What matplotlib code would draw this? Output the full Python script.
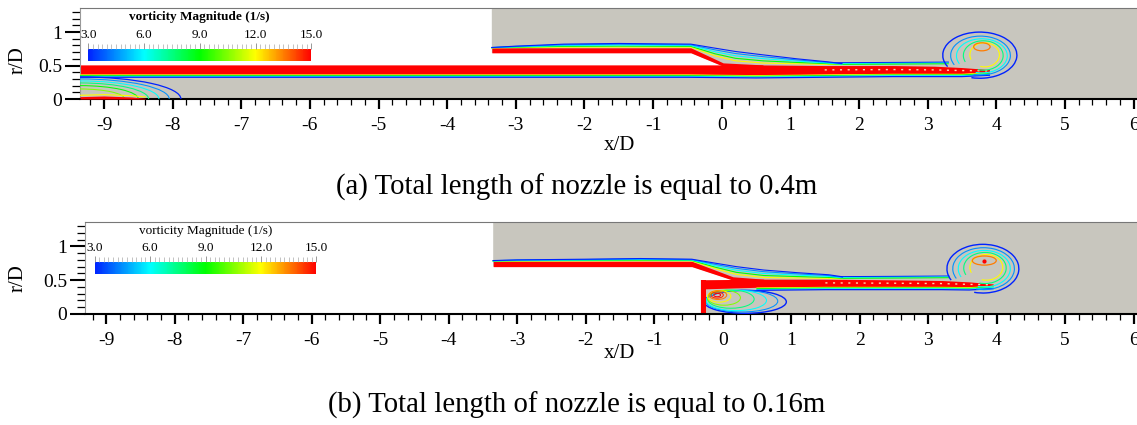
import numpy as np
import matplotlib
matplotlib.use('Agg')
import matplotlib.pyplot as plt
from matplotlib.colors import LinearSegmentedColormap, Normalize
from matplotlib.patches import Polygon, Ellipse, Arc, Rectangle
from matplotlib.ticker import MultipleLocator
import matplotlib.cm as cm

plt.rcParams['font.family'] = ['Liberation Serif', 'DejaVu Serif']
plt.rcParams['axes.unicode_minus'] = False

# vorticity colour scale
vort_min, vort_max = 3.0, 15.0
vort_ticks = [3.0, 6.0, 9.0, 12.0, 15.0]

# ---------------- case (a): nozzle length 0.4 m ----------------
# nozzle body (outside the fluid domain)
wall_a_x = [-9.35, -3.35, -3.35, -0.45, 0.02, -9.35]
wall_a_r = [1.40, 1.40, 0.69, 0.69, 0.49, 0.49]
# inner jet shear layer
jet_a_x = [-9.35, -3.0, -0.5, 0.5, 1.5, 2.5, 3.1, 3.5, 3.9]
jet_a_top = [0.51, 0.51, 0.51, 0.51, 0.50, 0.50, 0.49, 0.47, 0.44]
jet_a_bot = [0.37, 0.37, 0.37, 0.36, 0.37, 0.38, 0.38, 0.38, 0.40]
# outer shear layer leaving the outer nozzle lip
lip_a_x = [-3.35, -0.45, 0.02, 0.6]
lip_a_bot = [0.69, 0.69, 0.49, 0.49]
lip_a_top = [0.765, 0.765, 0.54, 0.51]
outer_a_x = [-3.35, -3.0, -2.3, -1.5, -0.45, -0.1, 0.2, 0.6, 1.1, 1.55, 1.75]
outer_a_in = [0.765, 0.765, 0.765, 0.765, 0.765, 0.62, 0.54, 0.51, 0.51, 0.51, 0.51]
outer_a_out = [0.77, 0.79, 0.82, 0.83, 0.82, 0.76, 0.71, 0.66, 0.60, 0.555, 0.53]
crest_a_x = [1.55, 2.5, 3.3]
crest_a_r = [0.54, 0.545, 0.55]
# starting vortex ring
ring_a_cx = [3.76, 3.77, 3.79, 3.81, 3.83, 3.79]
ring_a_cr = [0.655, 0.65, 0.645, 0.65, 0.66, 0.78]
ring_a_w = [1.08, 0.87, 0.74, 0.58, 0.43, 0.24]
ring_a_h = [0.69, 0.58, 0.51, 0.44, 0.36, 0.12]
ring_a_lvl = [3.0, 4.5, 6.0, 7.5, 12.0, 13.5]
# recirculation at the inlet corner
recirc_a_len = [1.47, 1.30, 1.15, 1.00, 0.85, 0.65]
recirc_a_ht = [0.33, 0.30, 0.27, 0.24, 0.20, 0.15]
recirc_a_lvl = [3.0, 4.5, 6.0, 7.5, 9.0, 10.5]
floor_a_x = [-9.35, -9.0, -8.6, -8.4]
floor_a_r = [0.035, 0.045, 0.03, 0.01]

# ---------------- case (b): nozzle length 0.16 m ----------------
wall_b_x = [-9.31, -9.31, -3.35, -3.35, -0.45, 0.15, -0.32, -0.32]
wall_b_r = [0.0, 1.40, 1.40, 0.70, 0.70, 0.50, 0.50, 0.0]
jet_b_x = [-0.32, 0.5, 1.5, 2.5, 3.2, 3.6, 3.95]
jet_b_top = [0.505, 0.515, 0.515, 0.505, 0.495, 0.475, 0.445]
jet_b_bot = [0.37, 0.395, 0.405, 0.405, 0.405, 0.40, 0.42]
step_b_x = [-0.32, -0.24]
step_b_r = [0.0, 0.505]
lip_b_x = [-3.35, -0.45, 0.15, 0.6]
lip_b_bot = [0.70, 0.70, 0.50, 0.50]
lip_b_top = [0.78, 0.78, 0.55, 0.515]
outer_b_x = [-3.35, -3.0, -2.0, -1.2, -0.45, -0.1, 0.2, 0.6, 1.1, 1.55, 1.75]
outer_b_in = [0.78, 0.78, 0.78, 0.78, 0.78, 0.65, 0.56, 0.515, 0.515, 0.515, 0.515]
outer_b_out = [0.79, 0.80, 0.81, 0.82, 0.81, 0.75, 0.70, 0.65, 0.61, 0.58, 0.55]
crest_b_x = [1.55, 2.5, 3.3]
crest_b_r = [0.55, 0.555, 0.56]
ring_b_cx = [3.80, 3.81, 3.82, 3.83, 3.85, 3.82]
ring_b_cr = [0.67, 0.67, 0.67, 0.68, 0.69, 0.79]
ring_b_w = [1.05, 0.90, 0.76, 0.62, 0.48, 0.35]
ring_b_h = [0.72, 0.62, 0.54, 0.46, 0.38, 0.135]
ring_b_lvl = [3.0, 4.5, 6.0, 7.5, 12.0, 13.5]
# recirculation behind the inner nozzle
recirc_b_cx = [0.33, 0.28, 0.20, 0.12, 0.02, -0.05, -0.07, -0.08, -0.08]
recirc_b_cr = [0.18, 0.19, 0.20, 0.22, 0.24, 0.26, 0.28, 0.28, 0.28]
recirc_b_w = [1.20, 1.05, 0.88, 0.68, 0.48, 0.34, 0.26, 0.18, 0.10]
recirc_b_h = [0.34, 0.32, 0.30, 0.27, 0.22, 0.17, 0.13, 0.09, 0.05]
recirc_b_lvl = [3.0, 4.5, 6.0, 7.5, 10.5, 12.0, 13.5, 14.5, 15.0]

GRAY = '#c8c6be'
RED = '#ff0000'
cmap = LinearSegmentedColormap.from_list(
    'vort', ['#0022ff', '#00ffff', '#00ff00', '#ffff00', '#ff0000'])
norm = Normalize(vort_min, vort_max)


def lc(v):
    return cmap(norm(v))


W, H = 1137, 425
fig = plt.figure(figsize=(W / 100, H / 100), dpi=100)


def add_panel(left, top, bottom, x0):
    ax = fig.add_axes([left / W, 1 - bottom / H, (W - left) / W, (bottom - top) / H])
    ax.set_xlim(x0, 6.05)
    ax.set_ylim(0, 1.36)
    ax.set_facecolor(GRAY)
    ax.xaxis.set_major_locator(MultipleLocator(1))
    ax.xaxis.set_minor_locator(MultipleLocator(0.2))
    ax.set_yticks([0, 0.5, 1])
    ax.set_yticklabels(['0', '0.5', '1'])
    ax.yaxis.set_minor_locator(MultipleLocator(0.1))
    ax.tick_params(axis='x', which='major', direction='out', length=7, width=1.6, labelsize=14, pad=6)
    ax.tick_params(axis='x', which='minor', direction='out', length=4.5, width=0.9)
    ax.tick_params(axis='y', which='major', direction='out', length=11, width=1.5, labelsize=14, pad=2)
    ax.tick_params(axis='y', which='minor', direction='out', length=6, width=0.9)
    ax.spines['top'].set_color('#777777')
    ax.spines['left'].set_color('#999999')
    ax.spines['left'].set_linewidth(0.8)
    ax.spines['right'].set_visible(False)
    ax.spines['bottom'].set_linewidth(1.5)
    return ax


def colorbar(ax, bounds, title_weight):
    cax = ax.inset_axes(bounds, transform=ax.transData)
    cb = fig.colorbar(cm.ScalarMappable(norm=norm, cmap=cmap), cax=cax, orientation='horizontal')
    cb.outline.set_visible(False)
    cax.xaxis.set_ticks_position('top')
    cax.set_xticks(vort_ticks)
    cax.set_xticklabels(['%.1f' % t for t in vort_ticks])
    cax.xaxis.set_minor_locator(MultipleLocator(0.25))
    cax.tick_params(which='major', length=4.5, width=0.6, color='#888888', labelsize=9.5, pad=1.5)
    cax.tick_params(which='minor', length=3.5, width=0.5, color='#aaaaaa')
    cax.annotate('vorticity Magnitude (1/s)', xy=(0.5, 1), xycoords='axes fraction',
                 xytext=(0, 23), textcoords='offset points', ha='center', va='center',
                 fontsize=9.5, fontweight=title_weight)


def shear_stack(ax, x, inner, outer, fracs, levels):
    inner = np.asarray(inner)
    outer = np.asarray(outer)
    for f, lv in zip(fracs, levels):
        ax.plot(x, inner + f * (outer - inner), color=lc(lv), lw=0.8, zorder=3)


def jet_layers(ax, x, top, bot, crest_x, crest_r, x_from):
    x = np.asarray(x)
    top = np.asarray(top)
    bot = np.asarray(bot)
    ax.fill_between(x, bot, top, color=RED, lw=0, zorder=2)
    keep = x >= x_from
    for d, lv in zip([0.01, 0.02, 0.032, 0.045], [12.0, 9.0, 6.0, 3.0]):
        ax.plot(x[keep], bot[keep] - d, color=lc(lv), lw=0.9 if lv == 3.0 else 0.7, zorder=3)
    # speckled core of the jet
    far = x >= 1.0
    ax.plot(x[far], (top[far] + bot[far]) / 2, color='#ffd8b0', lw=1.0,
            ls=(0, (1.5, 4)), zorder=3)
    cr = np.asarray(crest_r)
    for d, lv in zip([0.0, 0.012, 0.024], [3.0, 6.0, 9.0]):
        ax.plot(crest_x, cr - d, color=lc(lv), lw=0.9 if lv == 3.0 else 0.7, zorder=3)


def vortex_ring(ax, cx, cr, w, h, lvl):
    n = len(cx)
    for i in range(n):
        if i == n - 1:
            p = Ellipse((cx[i], cr[i]), w[i], h[i], fill=False, ec=lc(lvl[i]), lw=0.9, zorder=4)
        else:
            p = Arc((cx[i], cr[i]), w[i], h[i], theta1=250, theta2=200,
                    ec=lc(lvl[i]), lw=1.0 if i == 0 else 0.8, zorder=4)
        ax.add_patch(p)


# ---------------- panel (a) ----------------
ax_a = add_panel(80, 8, 99, -9.35)
ax_a.add_patch(Polygon(list(zip(wall_a_x, wall_a_r)), closed=True, fc='white', ec='none', zorder=1))
jet_layers(ax_a, jet_a_x, jet_a_top, jet_a_bot, crest_a_x, crest_a_r, -9.35)
ax_a.fill_between(lip_a_x, lip_a_bot, lip_a_top, color=RED, lw=0, zorder=2)
shear_stack(ax_a, outer_a_x, outer_a_in, outer_a_out,
            [0.18, 0.4, 0.62, 0.82, 1.0], [12.0, 9.0, 6.0, 4.5, 3.0])
vortex_ring(ax_a, ring_a_cx, ring_a_cr, ring_a_w, ring_a_h, ring_a_lvl)
for L, hgt, lv in zip(recirc_a_len, recirc_a_ht, recirc_a_lvl):
    ax_a.add_patch(Arc((-9.35, 0), 2 * L, 2 * hgt, theta1=0, theta2=90,
                       ec=lc(lv), lw=0.9 if lv == 3.0 else 0.75, zorder=3))
ax_a.fill_between(floor_a_x, 0, floor_a_r, color=RED, lw=0, zorder=3)
ax_a.plot(floor_a_x, np.asarray(floor_a_r) + 0.02, color=lc(12.0), lw=0.8, zorder=3)
colorbar(ax_a, [-9.23, 0.565, 3.25, 0.178], 'bold')

# ---------------- panel (b) ----------------
ax_b = add_panel(85, 222, 314, -9.31)
ax_b.add_patch(Polygon(list(zip(wall_b_x, wall_b_r)), closed=True, fc='white', ec='none', zorder=1))
jet_layers(ax_b, jet_b_x, jet_b_top, jet_b_bot, crest_b_x, crest_b_r, 0.45)
ax_b.fill_between(step_b_x, step_b_r[0], step_b_r[1], color=RED, lw=0, zorder=2)
ax_b.fill_between(lip_b_x, lip_b_bot, lip_b_top, color=RED, lw=0, zorder=2)
shear_stack(ax_b, outer_b_x, outer_b_in, outer_b_out,
            [0.18, 0.4, 0.62, 0.82, 1.0], [12.0, 9.0, 6.0, 4.5, 3.0])
vortex_ring(ax_b, ring_b_cx, ring_b_cr, ring_b_w, ring_b_h, ring_b_lvl)
ax_b.plot(ring_b_cx[-1], ring_b_cr[-1], 'o', color=RED, ms=2, zorder=5)
clip = Rectangle((step_b_x[1], 0.0), 3.0, jet_b_bot[0], transform=ax_b.transData)
for cx, cr, w, h, lv in zip(recirc_b_cx, recirc_b_cr, recirc_b_w, recirc_b_h, recirc_b_lvl):
    e = Ellipse((cx, cr), w, h, fill=False, ec=lc(lv), lw=1.0 if lv == 3.0 else 0.75, zorder=3)
    ax_b.add_patch(e)
    e.set_clip_path(clip)
colorbar(ax_b, [-9.17, 0.594, 3.24, 0.168], 'normal')

# labels and captions
for ycap, yx, yr, text in [(187, 145, 60, '(a) Total length of nozzle is equal to 0.4m'),
                           (405, 353, 278, '(b) Total length of nozzle is equal to 0.16m')]:
    fig.text(620 / W, 1 - yx / H, 'x/D', ha='center', va='center', fontsize=15)
    fig.text(18 / W, 1 - yr / H, 'r/D', ha='center', va='center', fontsize=15, rotation=90)
    fig.text(577 / W, 1 - ycap / H, text, ha='center', va='center', fontsize=20.7)

fig.savefig('out.png', dpi=100)
